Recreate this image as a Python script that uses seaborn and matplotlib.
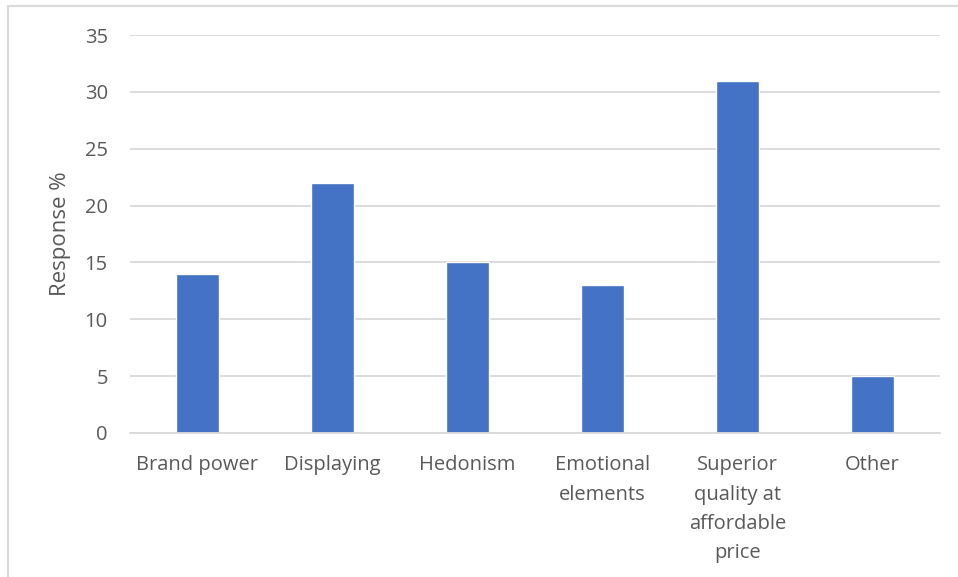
import pandas as pd
import numpy as np
import matplotlib.pyplot as plt
import seaborn as sns
from matplotlib.patches import Rectangle

# data
categories = ["Brand power", "Displaying", "Hedonism", "Emotional\nelements",
              "Superior\nquality at\naffordable\nprice", "Other"]
responses = [14, 22, 15, 13, 31, 5]
yticks = [0, 5, 10, 15, 20, 25, 30, 35]

df = pd.DataFrame({"category": categories, "response": responses})

sns.set_style("white")
plt.rcParams["font.family"] = ["Open Sans", "DejaVu Sans"]

fig = plt.figure(figsize=(9.58, 5.77), dpi=100)
ax = fig.add_axes([0.1357, 0.2496, 0.8455, 0.6897])

sns.barplot(data=df, x="category", y="response", color="#4472C4",
            width=0.32, saturation=1, ax=ax)

ax.set_ylim(0, 35)
ax.set_yticks(yticks)
ax.yaxis.grid(True, color="#d9d9d9", linewidth=1.3)
ax.set_axisbelow(True)
for s in ["top", "right", "left"]:
    ax.spines[s].set_visible(False)
ax.spines["bottom"].set_color("#d9d9d9")
ax.spines["bottom"].set_linewidth(1.3)

ax.tick_params(axis="both", length=0, labelsize=14.5, colors="#595959")
ax.tick_params(axis="y", pad=16)
ax.tick_params(axis="x", pad=16)
for lbl in ax.get_xticklabels():
    lbl.set_linespacing(1.62)
ax.set_xlabel("")
ax.set_ylabel("Response %", fontsize=16, color="#595959", labelpad=10)

# chart border
fig.patches.append(Rectangle((8 / 958, -0.1), 1.2, 1 - 6 / 577 + 0.1,
                             transform=fig.transFigure, fill=False,
                             edgecolor="#d9d9d9", linewidth=1.5))

fig.savefig("out.png", dpi=100)
